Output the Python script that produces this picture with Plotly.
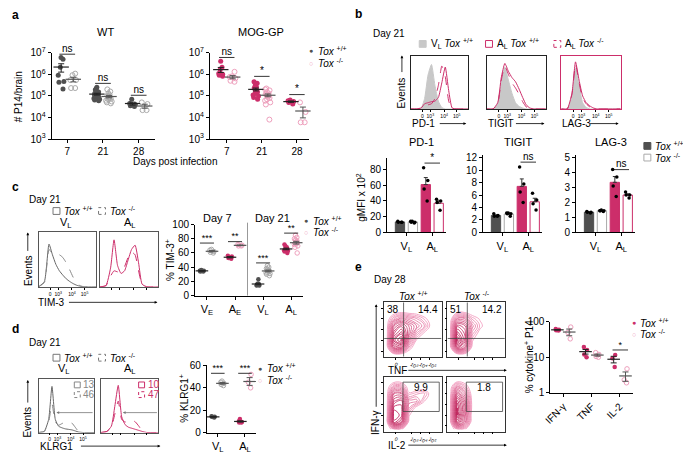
import numpy as np
import plotly.graph_objects as go

W, H = 683, 456
FONT = "Liberation Sans, Arial, Helvetica, sans-serif"
PINK = "#cc2e6a"
PINK_L = "#eea0bd"
GRAY_D = "#505050"
GRAY_L = "#aaaaaa"
GRAY_FILL = "#c8c8c8"

# ---------------- panel a data ----------------
A_DAYS = ["7", "21", "28"]
A_WT_POS = [
    [6.0e6, 5.0e6, 2.1e6, 9.1e5, 4.6e5, 4.3e5, 2.1e5],
    [2.5e5, 2.2e5, 1.9e5, 1.7e5, 1.5e5, 1.4e5, 1.3e5, 1.2e5, 1.15e5, 1.1e5,
     1.05e5, 1.0e5, 9.5e4, 9.0e4, 8.5e4, 8.0e4, 7.5e4, 7.0e4, 6.5e4, 6.0e4],
    [7.0e4, 4.5e4, 4.0e4, 3.5e4, 3.2e4],
]
A_WT_NEG = [
    [9.1e5, 1.07e6, 5.4e5, 5.4e5, 2.3e5, 2.3e5],
    [2.0e5, 1.6e5, 1.3e5, 1.1e5, 1.0e5, 9.0e4, 8.5e4, 8.0e4, 7.5e4, 7.0e4,
     6.0e4, 5.5e4, 5.0e4, 4.5e4],
    [5.0e4, 4.2e4, 2.2e4, 2.2e4],
]
A_MOG_POS = [
    [4.0e6, 2.1e6, 1.6e6, 1.0e6, 8.0e5, 9.0e5, 1.1e6],
    [4.5e5, 3.8e5, 3.0e5, 2.6e5, 2.3e5, 2.0e5, 1.8e5, 1.6e5, 1.5e5, 1.3e5,
     1.1e5, 1.0e5, 8.5e4, 7.0e4],
    [6.5e4, 6.0e4, 5.5e4, 5.0e4, 4.2e4],
]
A_MOG_NEG = [
    [1.3e6, 8.0e5, 7.5e5, 5.0e5, 4.5e5, 6.5e5],
    [2.2e5, 2.0e5, 1.8e5, 1.5e5, 1.3e5, 1.2e5, 1.1e5, 1.0e5, 9.0e4, 8.0e4,
     7.0e4, 6.0e4, 5.0e4, 4.0e4, 8.0e3],
    [5.0e4, 1.8e4, 6.0e3, 6.0e3],
]
A_WT_SIG = ["ns", "ns", "ns"]
A_WT_SIG_Y = [8.5e6, 3.8e5, 1.07e5]
A_MOG_SIG = ["ns", "*", "*"]
A_MOG_SIG_Y = [6.0e6, 8.0e5, 1.15e5]
A_YTICKS = [1e3, 1e4, 1e5, 1e6, 1e7]
A_YTICKTEXT = ["10<sup>3</sup>", "10<sup>4</sup>", "10<sup>5</sup>", "10<sup>6</sup>", "10<sup>7</sup>"]

# ---------------- panel b data ----------------
HX = [0, 10, 18, 24, 30, 36, 42, 48, 54, 60, 66, 72, 80, 100]
HIST_TICKS = [20, 34, 58, 80]
HIST_TICKTEXT = ["0", "10<sup>3</sup>", "10<sup>4</sup>", "10<sup>5</sup>"]
PD1_VL_POS = [0, 0, .02, .2, .65, .85, .45, .15, .03, 0, 0, 0, 0, 0]
PD1_AL_POS = [0, 0, .02, .1, .12, .14, .15, .22, .5, .8, .35, .02, 0, 0]
PD1_AL_NEG = [0, 0, .02, .06, .08, .1, .2, .45, .82, .62, .15, 0, 0, 0]
TIGIT_VL_POS = [0, 0, .1, .5, .8, .55, .3, .12, .05, .02, 0, 0, 0, 0]
TIGIT_AL_POS = [0, 0, .12, .6, .87, .72, .6, .52, .38, .22, .08, .02, 0, 0]
TIGIT_AL_NEG = [0, 0, .1, .55, .82, .66, .5, .4, .28, .14, .04, 0, 0, 0]
LAG3_VL_POS = [0, 0, .25, .78, .45, .12, .03, 0, 0, 0, 0, 0, 0, 0]
LAG3_AL_POS = [0, 0, .3, .9, .55, .25, .12, .06, .02, 0, 0, 0, 0, 0]
LAG3_AL_NEG = [0, 0, .28, .86, .5, .2, .1, .04, 0, 0, 0, 0, 0, 0]
B_HIST_NAMES = ["PD-1", "TIGIT", "LAG-3"]

B_GROUPS = ["V<sub>L</sub>", "A<sub>L</sub>"]
B_PD1 = [[13, 13, 14, 13], [12, 13, 14, 14, 13], [82, 66, 55, 40], [40, 38, 42, 28]]
B_TIGIT = [[3.0, 2.6, 2.6, 2.7], [3.1, 3.0, 3.0, 2.6, 3.1], [10.5, 7.8, 6.5, 4.8], [6.3, 5.2, 4.6, 3.6]]
B_LAG3 = [[1.35, 1.3, 1.35, 1.4], [1.45, 1.5, 1.4, 1.45, 1.45], [4.2, 3.7, 3.1, 2.4], [2.7, 2.5, 2.3, 2.5]]
B_SIG = ["*", "ns", "ns"]
B_SIG_Y = [88, 11.3, 4.2]
B_YMAX = [95, 12.5, 5.2]
B_YTICKS = [[0, 20, 40, 60, 80], [0, 2, 4, 6, 8, 10, 12], [0, 1, 2, 3, 4, 5]]

# ---------------- panel c data ----------------
TIM3_VL_POS = [0, .1, .8, .6, .42, .3, .22, .15, .1, .06, .03, .01, 0, 0]
TIM3_VL_NEG = [0, .08, .7, .62, .58, .6, .55, .45, .32, .18, .08, .02, 0, 0]
TIM3_AL_POS = [0, .02, .35, .88, .4, .25, .3, .5, .7, .78, .45, .05, 0, 0]
TIM3_AL_NEG = [0, .02, .2, .3, .28, .3, .38, .55, .65, .6, .3, .04, 0, 0]
C_CATS = ["V<sub>E</sub>", "A<sub>E</sub>", "V<sub>L</sub>", "A<sub>L</sub>"]
C_POS = [[35, 34, 35, 36, 34], [56, 53, 55, 52],
         [23, 16, 15, 14, 16, 17, 15, 14],
         [72, 68, 66, 65, 63, 67, 60, 70, 64, 62]]
C_NEG = [[65, 62, 60, 64, 61], [71, 70, 72, 70],
         [42, 38, 36, 34, 32, 30, 35, 37, 28, 40, 33, 31],
         [85, 80, 77, 75, 72, 70, 74, 68, 78, 73, 60, 82]]
C_SIG = ["***", "**", "***", "**"]
C_SIG_Y = [74, 76, 46, 88]

# ---------------- panel d data ----------------
KLRG1_VL_POS = [0, .02, .25, .88, .25, .12, .09, .07, .06, .05, .03, .01, 0, 0]
KLRG1_VL_NEG = [0, .02, .2, .55, .2, .14, .17, .2, .21, .18, .1, .02, 0, 0]
KLRG1_AL_POS = [0, .02, .12, .5, .9, .3, .15, .1, .08, .06, .04, .02, 0, 0]
KLRG1_AL_NEG = [0, .02, .1, .35, .6, .25, .2, .23, .24, .2, .12, .03, 0, 0]
D_GATE_TEXT = [["13", "46"], ["10", "47"]]
D_CATS = ["V<sub>L</sub>", "A<sub>L</sub>"]
D_POS = [[14, 13.5, 14.5, 14], [12, 9, 10, 9.5, 9]]
D_NEG = [[44, 42, 46, 43, 45], [52, 45, 40]]
D_SIG = ["***", "***"]
D_SIG_Y = [53, 53]

# ---------------- panel e data ----------------
E_TL = [  # rows bottom -> top
    [0, .5, .5, 0, 0, 0, 0, 0],
    [.2, 4.5, 5, 1.5, 0, 0, 0, 0],
    [.3, 6, 7, 3, .8, 0, 0, 0],
    [.3, 5, 6, 4, 2, .8, 0, 0],
    [.3, 4, 5, 4, 3, 2, .5, 0],
    [.2, 2, 3, 2.5, 2, 1.2, .3, 0],
    [0, .3, .6, .4, .3, 0, 0, 0],
    [0, 0, 0, 0, 0, 0, 0, 0],
]
E_TR = [
    [0, .5, .5, 0, 0, 0, 0, 0],
    [.2, 5, 4, .5, 0, 0, 0, 0],
    [.3, 7, 5, 1, 0, 0, 0, 0],
    [.3, 6, 5, 1.8, .5, 0, 0, 0],
    [.3, 5, 4.5, 2.5, 1.2, .3, 0, 0],
    [.2, 3, 3, 1.5, .8, .2, 0, 0],
    [0, .6, .6, .2, 0, 0, 0, 0],
    [0, 0, 0, 0, 0, 0, 0, 0],
]
E_BL = [
    [0, 1.5, 1, 0, 0, 0, 0, 0],
    [.3, 6, 5, .5, 0, 0, 0, 0],
    [.3, 6.5, 6, 1, 0, 0, 0, 0],
    [.3, 6, 6, 2, .5, 0, 0, 0],
    [.3, 5, 5.5, 2.5, 2.5, 1, 0, 0],
    [.3, 4, 4, 1, 1.5, 1.8, .3, 0],
    [.2, 2, 2, .3, 0, 0, 0, 0],
    [0, 0, 0, 0, 0, 0, 0, 0],
]
E_BR = [
    [0, 1.5, 1, 0, 0, 0, 0, 0],
    [.3, 5.5, 3.5, .2, 0, 0, 0, 0],
    [.3, 6.5, 4, .3, 0, 0, 0, 0],
    [.3, 6.5, 4.5, .5, 0, 0, 0, 0],
    [.3, 6, 4, .5, 0, 0, 0, 0],
    [.3, 4.5, 3, .3, 0, 0, 0, 0],
    [.2, 2.5, 1.5, 0, 0, 0, 0, 0],
    [0, 0, 0, 0, 0, 0, 0, 0],
]
E_QUAD_TEXT = ["38", "14.4", "51", "14.2"]
E_GATE_TEXT = ["9.9", "1.8"]
E_CATS = ["IFN-γ", "TNF", "IL-2"]
E_POS = [[62, 57, 60, 58], [19.5, 16, 12, 10], [11.6, 9.4, 5.3]]
E_NEG = [[71, 50, 33], [13.5, 12, 10.5, 10], [4.7, 2.3, 1.9]]
E_SIG = ["", "", "*"]
E_SIG_Y = [None, None, 16]

# ======================================================
fig = go.Figure()
LAYOUT = {}
ANN = []
SHAPES = []
NAX = [0]


def ax(**kw):
    d = dict(showline=True, linecolor="black", linewidth=1, ticks="outside", ticklen=3,
             tickwidth=1, tickcolor="black", showgrid=False, zeroline=False,
             tickfont=dict(size=10), fixedrange=True)
    d.update(kw)
    return d


def new_axes(x0, x1, y0, y1, xopt, yopt):
    NAX[0] += 1
    n = NAX[0]
    s = "" if n == 1 else str(n)
    LAYOUT["xaxis" + s] = dict(domain=[x0 / W, x1 / W], anchor="y" + s, **xopt)
    LAYOUT["yaxis" + s] = dict(domain=[1 - y1 / H, 1 - y0 / H], anchor="x" + s, **yopt)
    return "x" + s, "y" + s


def txt(x, y, s, size=10, xanchor="center", yanchor="middle", color="black", angle=0):
    ANN.append(dict(x=x / W, y=1 - y / H, xref="paper", yref="paper", text=s, showarrow=False,
                    font=dict(size=size, color=color, family=FONT), xanchor=xanchor,
                    yanchor=yanchor, textangle=angle))


def arrow(xh, yh, xt, yt):
    ANN.append(dict(x=xh / W, y=1 - yh / H, xref="paper", yref="paper", ax=xt - xh, ay=yt - yh,
                    axref="pixel", ayref="pixel", text="", showarrow=True, arrowhead=2,
                    arrowsize=0.7, arrowwidth=0.8, arrowcolor="black"))


def sq(xc, yc, s, line, fill="rgba(0,0,0,0)", dash="solid"):
    SHAPES.append(dict(type="rect", xref="paper", yref="paper", x0=(xc - s / 2) / W,
                       x1=(xc + s / 2) / W, y0=1 - (yc + s / 2) / H, y1=1 - (yc - s / 2) / H,
                       line=dict(color=line, width=1, dash=dash), fillcolor=fill))


def dots(xa, ya, pos, vals, color, filled, size=5, width=0.28, jitter=0.7):
    if filled:
        mk = dict(symbol="circle", size=size, color=color, line=dict(width=0))
    else:
        mk = dict(symbol="circle-open", size=size, color=color, line=dict(width=1, color=color))
    fig.add_trace(go.Box(x=[pos] * len(vals), y=vals, boxpoints="all", jitter=jitter, pointpos=0,
                         width=width, fillcolor="rgba(0,0,0,0)",
                         line=dict(color="rgba(0,0,0,0)", width=0), whiskerwidth=0, marker=mk,
                         hoverinfo="skip", xaxis=xa, yaxis=ya, showlegend=False))


def mean_sem(xa, ya, pos, vals, color="#222", size=11):
    v = np.array(vals, float)
    m = v.mean()
    s = v.std(ddof=1) / np.sqrt(len(v))
    fig.add_trace(go.Scatter(x=[pos], y=[m], mode="markers",
                             marker=dict(symbol="line-ew", size=size, line=dict(color=color, width=1.2)),
                             error_y=dict(type="data", array=[s], color=color, thickness=1, width=3),
                             xaxis=xa, yaxis=ya, hoverinfo="skip", showlegend=False, cliponaxis=False))


def sig(xa, ya, x0, x1, y, text, size=10):
    fig.add_trace(go.Scatter(x=[x0, x1], y=[y, y], mode="lines", line=dict(color="black", width=0.8),
                             xaxis=xa, yaxis=ya, hoverinfo="skip", showlegend=False, cliponaxis=False))
    fig.add_trace(go.Scatter(x=[(x0 + x1) / 2], y=[y], mode="text", text=[text],
                             textposition="top center", textfont=dict(size=size, family=FONT),
                             xaxis=xa, yaxis=ya, hoverinfo="skip", showlegend=False, cliponaxis=False))


def hist_axes(x0, x1, y0, y1, labels=True, frame="#222"):
    xo = ax(range=[0, 100], mirror=True, linecolor=frame, linewidth=0.8, ticklen=2,
            tickvals=HIST_TICKS, ticktext=HIST_TICKTEXT if labels else ["", "", "", ""],
            tickfont=dict(size=5))
    yo = ax(range=[0, 1.02], mirror=True, linecolor=frame, linewidth=0.8, ticks="",
            showticklabels=False)
    return new_axes(x0, x1, y0, y1, xo, yo)


def curve(xa, ya, vals, color, dash="solid", fill=False):
    fig.add_trace(go.Scatter(x=HX, y=vals, mode="lines",
                             line=dict(color=color, width=1, dash=dash, shape="spline", smoothing=0.5),
                             fill="tozeroy" if fill else None, fillcolor=GRAY_FILL if fill else None,
                             xaxis=xa, yaxis=ya, hoverinfo="skip", showlegend=False))


def legend_dots(x, y1, y2, c1, c2):
    txt(x, y1, "●", size=7, color=c1)
    txt(x + 5, y1, "<i>Tox</i> <sup>+/+</sup>", size=10, xanchor="left")
    txt(x, y2, "○", size=7, color=c2)
    txt(x + 5, y2, "<i>Tox</i> <sup>-/-</sup>", size=10, xanchor="left")


# ======================= panel a =======================
txt(3, 8, "<b>a</b>", size=12, xanchor="left")
for name, POS, NEG, SG, SGY, box, rng, cpos, cneg in [
    ("WT", A_WT_POS, A_WT_NEG, A_WT_SIG, A_WT_SIG_Y, (45, 150), [0.56, 3.47], GRAY_D, GRAY_L),
    ("MOG-GP", A_MOG_POS, A_MOG_NEG, A_MOG_SIG, A_MOG_SIG_Y, (205, 305), [0.52, 3.34], PINK, PINK_L),
]:
    xa, ya = new_axes(box[0], box[1], 47, 136,
                      ax(range=rng, tickvals=[1, 2, 3], ticktext=A_DAYS),
                      ax(type="log", range=[3, 7], tickvals=A_YTICKS, ticktext=A_YTICKTEXT))
    for i in range(3):
        p = i + 1
        dots(xa, ya, p - 0.17, POS[i], cpos, True)
        dots(xa, ya, p + 0.17, NEG[i], cneg, False)
        mean_sem(xa, ya, p - 0.17, POS[i], "#222")
        mean_sem(xa, ya, p + 0.17, NEG[i], "#555")
        sig(xa, ya, p - 0.22, p + 0.22, SGY[i], SG[i])
txt(100, 26, "WT", size=11)
txt(257, 26, "MOG-GP", size=11)
txt(12, 92, "# P14/brain", size=10, angle=-90)
txt(170, 159, "Days post infection", size=10)
legend_dots(307, 45, 58, GRAY_D, PINK_L)

# ======================= panel b histograms =======================
txt(350, 7, "<b>b</b>", size=12, xanchor="left")
txt(368, 27, "Day 21", size=10, xanchor="left")
sq(420, 38, 7, GRAY_FILL, GRAY_FILL)
txt(426, 38, "V<sub>L</sub> <i>Tox</i> <sup>+/+</sup>", size=10, xanchor="left")
sq(487, 38, 7, PINK)
txt(493, 38, "A<sub>L</sub> <i>Tox</i> <sup>+/+</sup>", size=10, xanchor="left")
sq(556, 38, 7, PINK, dash="dot")
txt(562, 38, "A<sub>L</sub> <i>Tox</i> <sup>-/-</sup>", size=10, xanchor="left")
B_HISTS = [(PD1_VL_POS, PD1_AL_POS, PD1_AL_NEG),
           (TIGIT_VL_POS, TIGIT_AL_POS, TIGIT_AL_NEG),
           (LAG3_VL_POS, LAG3_AL_POS, LAG3_AL_NEG)]
for k, (bx0, bx1) in enumerate([(408, 466), (485, 545), (560, 620)]):
    xa, ya = hist_axes(bx0, bx1, 50, 105, frame=("#222" if k < 2 else PINK))
    g, ps, pdn = B_HISTS[k]
    curve(xa, ya, g, GRAY_FILL, fill=True)
    curve(xa, ya, ps, PINK)
    curve(xa, ya, pdn, PINK, dash="dash")
    txt(bx0 - 1, 120, B_HIST_NAMES[k], size=10, xanchor="left")
    arrow(bx1 - 2, 120, bx0 + 28, 120)
txt(399, 88, "Events", size=10, angle=-90)
arrow(399, 50, 399, 68)

# ======================= panel b bars =======================
B_DATA = [B_PD1, B_TIGIT, B_LAG3]
B_FILL = [GRAY_D, "white", PINK, "white"]
B_EDGE = [GRAY_D, GRAY_L, PINK, PINK]
for k, ((bx0, bx1), by0) in enumerate([((384, 444), 155), ((481, 541), 152), ((575, 635), 152)]):
    xa, ya = new_axes(bx0, bx1, by0, 232,
                      ax(range=[0, 4.6], tickvals=[1.5, 3.5], ticktext=B_GROUPS, tickfont=dict(size=11)),
                      ax(range=[0, B_YMAX[k]], tickvals=B_YTICKS[k]))
    data = B_DATA[k]
    means = [float(np.mean(d)) for d in data]
    sems = [float(np.std(d, ddof=1) / np.sqrt(len(d))) for d in data]
    fig.add_trace(go.Bar(x=[1, 2, 3, 4], y=means, width=0.72,
                         marker=dict(color=B_FILL, line=dict(color=B_EDGE, width=1)),
                         error_y=dict(type="data", symmetric=False, array=sems, arrayminus=[0] * 4,
                                      color="#333", thickness=1, width=2),
                         xaxis=xa, yaxis=ya, hoverinfo="skip", showlegend=False))
    for j in range(4):
        dots(xa, ya, j + 1, data[j], "black", True, size=3.5, width=0.5, jitter=0.8)
    sig(xa, ya, 2.9, 4.1, B_SIG_Y[k], B_SIG[k])
    txt((bx0 + bx1) / 2 + 5, 139, B_HIST_NAMES[k], size=11)
txt(358, 196, "gMFI x 10<sup>2</sup>", size=10, angle=-90)
sq(647, 143, 7, GRAY_D, GRAY_D)
txt(653, 143, "<i>Tox</i> <sup>+/+</sup>", size=10, xanchor="left")
sq(647, 155, 7, GRAY_L, "white")
txt(653, 155, "<i>Tox</i> <sup>-/-</sup>", size=10, xanchor="left")

# ======================= panel c =======================
txt(3, 185, "<b>c</b>", size=12, xanchor="left")
txt(20, 198, "Day 21", size=10, xanchor="left")
sq(50, 210, 7, "#777")
txt(56, 210, "<i>Tox</i> <sup>+/+</sup>", size=10, xanchor="left")
sq(96, 210, 7, "#777", dash="dot")
txt(102, 210, "<i>Tox</i> <sup>-/-</sup>", size=10, xanchor="left")
txt(60, 222, "V<sub>L</sub>", size=11)
txt(124, 222, "A<sub>L</sub>", size=11)
xa, ya = hist_axes(32, 90, 232, 288, frame="#555")
curve(xa, ya, TIM3_VL_POS, "#666")
curve(xa, ya, TIM3_VL_NEG, "#888", dash="dash")
xa, ya = hist_axes(94, 153, 232, 288, labels=False, frame="#555")
curve(xa, ya, TIM3_AL_POS, PINK)
curve(xa, ya, TIM3_AL_NEG, PINK, dash="dash")
txt(21, 271, "Events", size=10, angle=-90)
arrow(21, 232, 21, 252)
txt(29, 304, "TIM-3", size=10, xanchor="left")
arrow(152, 304, 62, 304)

xa, ya = new_axes(190, 299, 224, 297,
                  ax(range=[0.576, 4.42], tickvals=[1, 2, 3, 4], ticktext=C_CATS, tickfont=dict(size=11)),
                  ax(range=[0, 100], tickvals=[0, 20, 40, 60, 80, 100]))
for i in range(4):
    p = i + 1
    cp = GRAY_D if i in (0, 2) else PINK
    cn = GRAY_L if i in (0, 2) else PINK_L
    dots(xa, ya, p - 0.18, C_POS[i], cp, True, size=4.5, width=0.25)
    dots(xa, ya, p + 0.18, C_NEG[i], cn, False, size=4.5, width=0.25)
    mean_sem(xa, ya, p - 0.18, C_POS[i], "#222", size=9)
    mean_sem(xa, ya, p + 0.18, C_NEG[i], "#555", size=9)
    sig(xa, ya, p - 0.25, p + 0.25, C_SIG_Y[i], C_SIG[i], size=9)
SHAPES.append(dict(type="line", xref="paper", yref="paper", x0=243 / W, x1=243 / W,
                   y0=1 - 297 / H, y1=1 - 222 / H, line=dict(color="#999", width=1)))
txt(213, 217, "Day 7", size=11)
txt(268, 217, "Day 21", size=11)
txt(164, 260, "% TIM-3<sup>+</sup>", size=10, angle=-90)
legend_dots(302, 220, 232, GRAY_D, PINK_L)

# ======================= panel d =======================
txt(3, 331, "<b>d</b>", size=12, xanchor="left")
txt(20, 345, "Day 21", size=10, xanchor="left")
sq(50, 361, 7, "#777")
txt(56, 361, "<i>Tox</i> <sup>+/+</sup>", size=10, xanchor="left")
sq(96, 361, 7, "#777", dash="dot")
txt(102, 361, "<i>Tox</i> <sup>-/-</sup>", size=10, xanchor="left")
txt(58, 373, "V<sub>L</sub>", size=11)
txt(124, 373, "A<sub>L</sub>", size=11)
for k, (bx0, bx1, cs, cd, curves) in enumerate([
        (32, 88, "#666", "#888", (KLRG1_VL_POS, KLRG1_VL_NEG)),
        (95, 153, PINK, PINK, (KLRG1_AL_POS, KLRG1_AL_NEG))]):
    xa, ya = hist_axes(bx0, bx1, 383, 438, labels=(k == 0), frame="#555")
    curve(xa, ya, curves[0], cs)
    curve(xa, ya, curves[1], cd, dash="dash")
    gx = 32 if k == 0 else 38
    ANN.append(dict(x=gx, y=0.38, xref=xa, yref=ya, ax=100, ay=0.38, axref=xa, ayref=ya,
                    text="", showarrow=True, arrowhead=2, arrowsize=0.7, arrowwidth=0.8,
                    arrowcolor="#777"))
    tc = "#888" if k == 0 else PINK
    sq(bx1 - 17, 389, 6, tc)
    txt(bx1 - 13, 389, D_GATE_TEXT[k][0], size=10, xanchor="left", color=tc)
    sq(bx1 - 17, 399, 6, tc, dash="dot")
    txt(bx1 - 13, 399, D_GATE_TEXT[k][1], size=10, xanchor="left", color=tc)
txt(21, 427, "Events", size=10, angle=-90)
arrow(21, 384, 21, 408)
txt(31, 452, "KLRG1", size=10, xanchor="left")
arrow(155, 452, 74, 452)

xa, ya = new_axes(202, 252, 369, 438,
                  ax(range=[0.6, 2.42], tickvals=[1, 2], ticktext=D_CATS, tickfont=dict(size=11)),
                  ax(range=[0, 60], tickvals=[0, 20, 40, 60]))
for i in range(2):
    p = i + 1
    cp = GRAY_D if i == 0 else PINK
    cn = GRAY_L if i == 0 else PINK_L
    dots(xa, ya, p - 0.17, D_POS[i], cp, True, size=4.5, width=0.2)
    dots(xa, ya, p + 0.17, D_NEG[i], cn, False, size=4.5, width=0.2)
    mean_sem(xa, ya, p - 0.17, D_POS[i], "#222", size=9)
    mean_sem(xa, ya, p + 0.17, D_NEG[i], "#555", size=9)
    sig(xa, ya, p - 0.25, p + 0.25, D_SIG_Y[i], D_SIG[i], size=9)
txt(178, 403, "% KLRG1<sup>+</sup>", size=10, angle=-90)
legend_dots(256, 372, 384, GRAY_D, PINK_L)

# ======================= panel e =======================
txt(350, 268, "<b>e</b>", size=12, xanchor="left")
txt(369, 281, "Day 28", size=10, xanchor="left")
txt(411, 297, "<i>Tox</i> <sup>+/+</sup>", size=10)
txt(475, 297, "<i>Tox</i> <sup>-/-</sup>", size=10)
CSCALE = [[0, "#f3a0c2"], [1, "#b8164f"]]
E_QUAD = [2.28, 2.25]
for k, (Z, bx, by) in enumerate([(E_TL, (381, 439), (304, 360)), (E_TR, (445, 503), (304, 360)),
                                  (E_BL, (381, 439), (381, 437)), (E_BR, (445, 503), (381, 437))]):
    lab = k in (0, 2)
    xo = ax(range=[-0.3, 7.3], mirror=True, linecolor="#333", linewidth=0.8, ticklen=2,
            tickvals=[1.2, 3.3, 4.5, 5.7],
            ticktext=HIST_TICKTEXT if lab else ["", "", "", ""], tickfont=dict(size=5))
    yo = ax(range=[-0.3, 7.3], mirror=True, linecolor="#333", linewidth=0.8, ticklen=2,
            tickvals=[0.5, 2, 3.5, 5, 6.5], showticklabels=False)
    xa, ya = new_axes(bx[0], bx[1], by[0], by[1], xo, yo)
    fig.add_trace(go.Contour(z=Z, x=list(range(8)), y=list(range(8)),
                             contours=dict(coloring="lines", start=0.9, end=7, size=0.35),
                             line=dict(width=0.9, smoothing=1.2), colorscale=CSCALE, showscale=False,
                             hoverinfo="skip", xaxis=xa, yaxis=ya))
    if k < 2:
        SHAPES.append(dict(type="line", xref=xa, yref=ya, x0=E_QUAD[0] + 0.05 * k, x1=E_QUAD[0] + 0.05 * k,
                           y0=-0.3, y1=7.3, line=dict(color="#444", width=0.8)))
        SHAPES.append(dict(type="line", xref=xa, yref=ya, x0=-0.3, x1=7.3, y0=E_QUAD[1], y1=E_QUAD[1],
                           line=dict(color="#444", width=0.8)))
    else:
        SHAPES.append(dict(type="rect", xref=xa, yref=ya, x0=2.2, x1=7.0, y0=2.5, y1=6.6,
                           line=dict(color="#444", width=0.8)))
txt(390, 311, E_QUAD_TEXT[0], size=10)
txt(425, 311, E_QUAD_TEXT[1], size=10)
txt(454, 311, E_QUAD_TEXT[2], size=10)
txt(490, 311, E_QUAD_TEXT[3], size=10)
txt(418, 392, E_GATE_TEXT[0], size=10)
txt(482, 392, E_GATE_TEXT[1], size=10)
txt(383, 374, "TNF", size=10, xanchor="left")
arrow(505, 374, 405, 374)
txt(383, 451, "IL-2", size=10, xanchor="left")
arrow(505, 451, 405, 451)
txt(373, 428, "IFN-γ", size=10, angle=-90)
arrow(373, 306, 373, 410)

xa, ya = new_axes(549, 632, 324, 397,
                  ax(range=[0.54, 3.46], tickvals=[1, 2, 3], ticktext=E_CATS, tickangle=-45,
                     tickfont=dict(size=10)),
                  ax(type="log", range=[0, 2], tickvals=[1, 10, 100], ticktext=["1", "10", "100"]))
for i in range(3):
    p = i + 1
    dots(xa, ya, p - 0.21, E_POS[i], PINK, True, size=4.5, width=0.2)
    dots(xa, ya, p + 0.21, E_NEG[i], PINK_L, False, size=4.5, width=0.2)
    mean_sem(xa, ya, p - 0.21, E_POS[i], "#222", size=9)
    mean_sem(xa, ya, p + 0.21, E_NEG[i], "#555", size=9)
    if E_SIG[i]:
        sig(xa, ya, p - 0.25, p + 0.3, E_SIG_Y[i], E_SIG[i], size=9)
txt(527, 360, "% cytokine<sup>+</sup> P14", size=10, angle=-90)
legend_dots(633, 325, 337, PINK, PINK_L)

fig.update_layout(width=W, height=H, margin=dict(l=0, r=0, t=0, b=0),
                  paper_bgcolor="white", plot_bgcolor="white", showlegend=False,
                  font=dict(family=FONT, size=9, color="black"), boxmode="overlay",
                  annotations=ANN, shapes=SHAPES, **LAYOUT)
fig.write_html("out.html", config={"displayModeBar": False},
               post_script="document.body.style.margin='0';document.body.style.overflow='hidden';")
